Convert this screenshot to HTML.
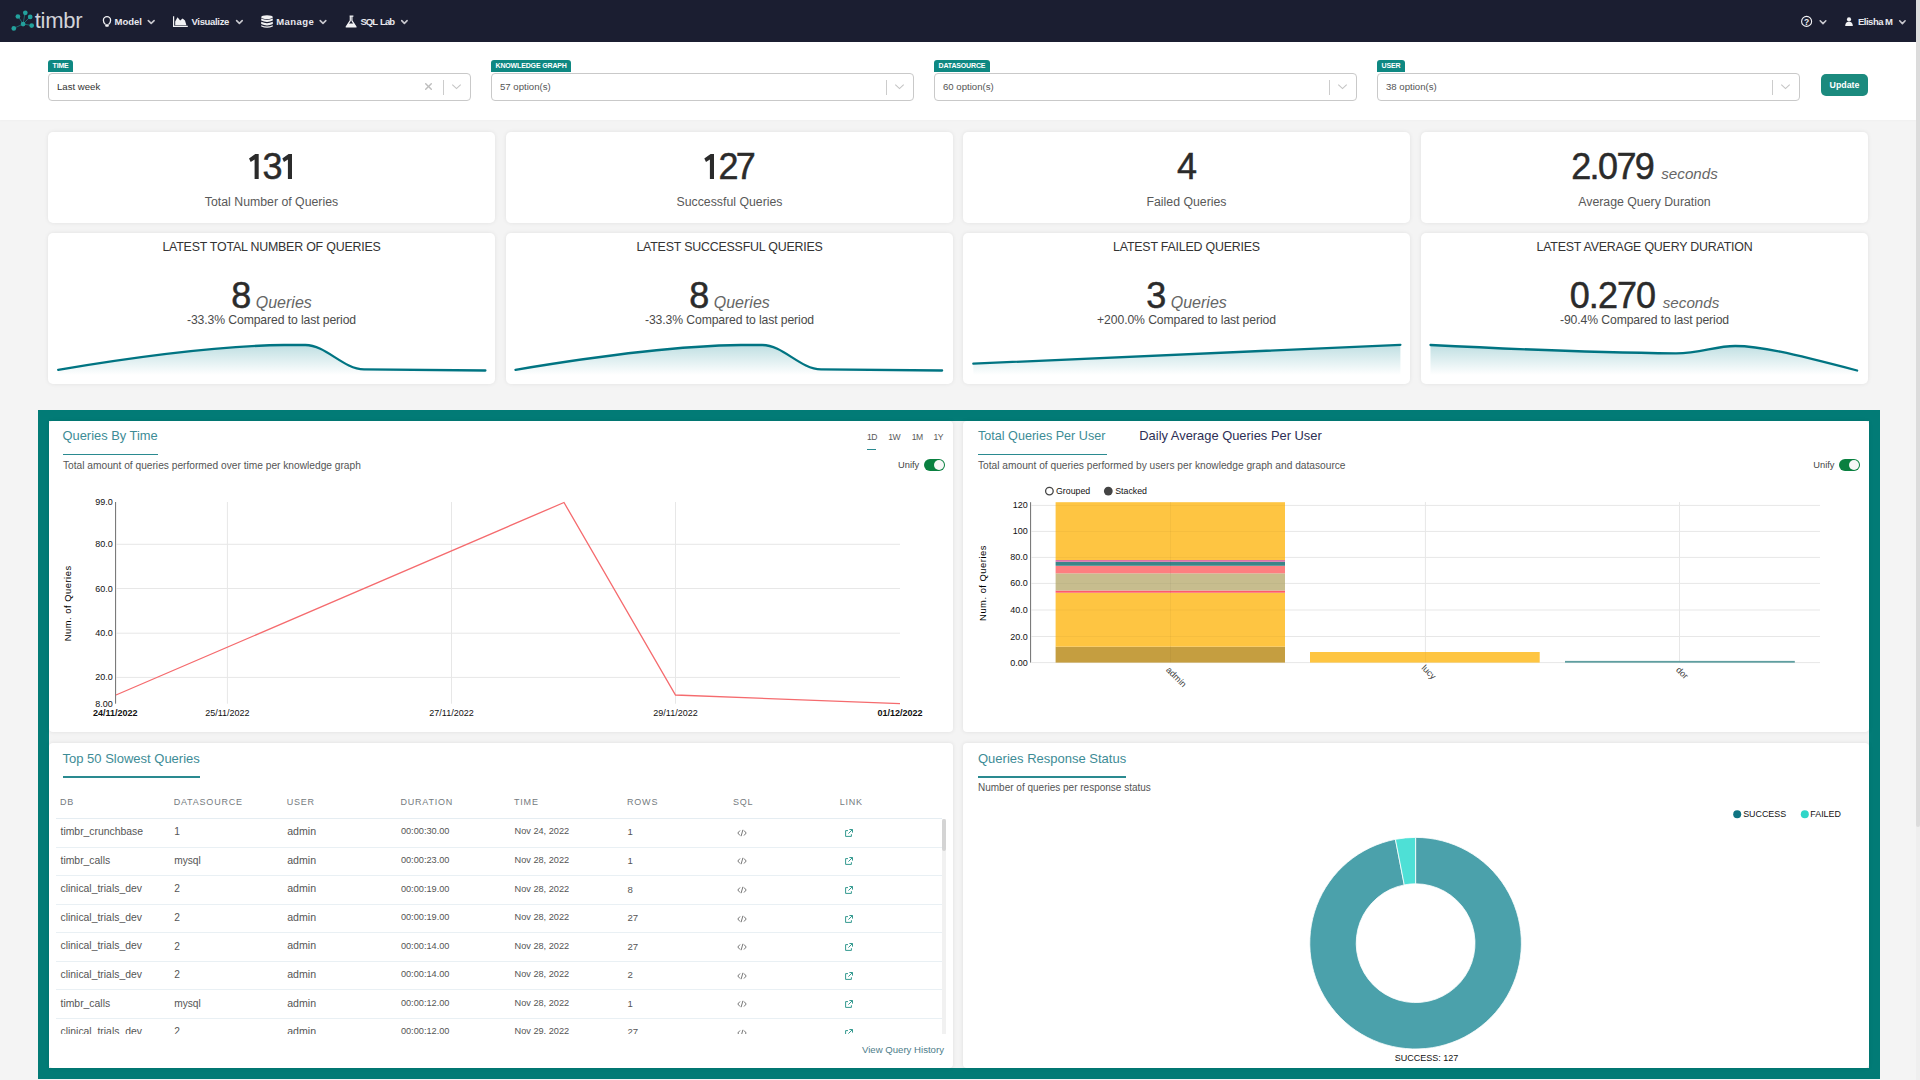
<!DOCTYPE html>
<html><head><meta charset="utf-8">
<style>
*{box-sizing:border-box;margin:0;padding:0}
html,body{width:1920px;height:1080px;overflow:hidden;background:#f4f4f4;font-family:"Liberation Sans",sans-serif;color:#333}
.a{position:absolute}
.nav{left:0;top:0;width:1916px;height:42px;background:#1b1e31}
.navt{position:absolute;top:16px;font-size:9.5px;font-weight:bold;color:#e9e9ee;white-space:nowrap;line-height:12px}
.chev{position:absolute}
.filt{left:0;top:42px;width:1916px;height:78px;background:#fff;box-shadow:0 1px 2px rgba(0,0,0,0.018)}
.lbl{position:absolute;top:60px;height:12.4px;background:#0e8882;color:#fff;font-size:7px;font-weight:bold;line-height:12.4px;padding:0 4.5px;border-radius:3px 3px 0 0;letter-spacing:-0.15px;white-space:nowrap}
.sel{position:absolute;top:72.6px;width:423px;height:28.2px;border:1px solid #c9c9c9;border-radius:4px;background:#fff}
.sel .v{position:absolute;left:8px;top:7.6px;font-size:9.6px;color:#555;line-height:12px;white-space:nowrap}
.sel .sep{position:absolute;left:394px;top:6px;width:1px;height:15px;background:#ccc}
.card{position:absolute;background:#fff;border-radius:5px;box-shadow:0 0 4px rgba(0,0,0,0.08)}
.big{position:absolute;left:0;width:100%;text-align:center;white-space:nowrap}
.kn{position:absolute;left:0;width:100%;text-align:center;white-space:nowrap;color:#2b2b2b}
.kn .n{font-size:36px;letter-spacing:-1.5px;line-height:34px;-webkit-text-stroke:0.5px #2b2b2b}
.kn .u{font-size:16px;font-style:italic;color:#666;margin-left:6px;line-height:17px}
.kl{position:absolute;left:0;width:100%;text-align:center;white-space:nowrap;font-size:12.3px;color:#595959;line-height:14px}
.kt{position:absolute;left:0;width:100%;text-align:center;white-space:nowrap;font-size:12.4px;color:#333;line-height:14px;letter-spacing:-0.2px}
.kc{position:absolute;left:0;width:100%;text-align:center;white-space:nowrap;font-size:12.2px;color:#4a4a4a;line-height:14px;letter-spacing:-0.1px}
.sb{position:absolute;left:1916px;top:0;width:4px;height:1080px;background:#efefef}
.sb div{position:absolute;left:0;top:0;width:4px;height:827px;background:#dcdcdc;border-radius:0 0 2px 2px}
.frame{left:38px;top:410px;width:1842px;height:669px;background:#027b76}
.inner{left:49px;top:421px;width:1820px;height:647px;background:#f4f4f4}
.pan{position:absolute;background:#fff;border-radius:4px;box-shadow:0 0 4px rgba(0,0,0,0.09)}
.ttl{position:absolute;font-size:12.9px;color:#3d8c96;white-space:nowrap;line-height:15px}
.ul{position:absolute;height:1.3px;background:#2a8a90}
.sub{position:absolute;font-size:10.2px;color:#555;white-space:nowrap;line-height:12px}
.ax{font-family:"Liberation Sans",sans-serif;font-size:9px;fill:#111}
.th{position:absolute;top:797.4px;font-size:9px;letter-spacing:0.8px;color:#757b80;white-space:nowrap;line-height:10px}
.td{position:absolute;font-size:9.4px;color:#555;white-space:nowrap;line-height:11px}
</style></head><body>
<div class="sb"><div></div></div>

<!-- NAVBAR -->
<div class="a nav">
  <svg class="a" style="left:10px;top:8px" width="26" height="26" viewBox="10 8 26 26">
    <g stroke="#1c7274" stroke-width="0.9" fill="none">
      <line x1="23.1" y1="24" x2="25" y2="12.7"/><line x1="23.1" y1="24" x2="17.9" y2="16.1"/>
      <line x1="23.1" y1="24" x2="30.2" y2="16.7"/><line x1="23.1" y1="24" x2="31.8" y2="25.5"/>
      <line x1="23.1" y1="24" x2="13.9" y2="28.3"/>
    </g>
    <g fill="#23a19d">
      <circle cx="25.3" cy="12.8" r="2.35"/><circle cx="17.9" cy="16.5" r="2.35"/><circle cx="30.2" cy="16.9" r="2.35"/>
      <circle cx="23.1" cy="24.1" r="2.4"/><circle cx="31.7" cy="25.6" r="2.35"/><circle cx="13.8" cy="28.4" r="2.35"/>
    </g>
  </svg>
  <div class="a" style="left:34.8px;top:8px;font-size:22px;color:#d2d3d9;letter-spacing:-0.3px;line-height:26px">timbr</div>

  <svg class="a" style="left:0;top:0" width="1916" height="42">
    <g fill="none" stroke="#c9c9cf" stroke-width="1.6" stroke-linecap="round" stroke-linejoin="round">
      <polyline points="148.3,20.6 151.2,23.4 154.1,20.6"/>
      <polyline points="236.6,20.6 239.4,23.4 242.2,20.6"/>
      <polyline points="320.2,20.6 323,23.4 325.8,20.6"/>
      <polyline points="401.7,20.6 404.4,23.4 407.1,20.6"/>
      <polyline points="1820.2,20.8 1823,23.6 1825.8,20.8"/>
      <polyline points="1899.7,20.8 1902.4,23.6 1905.1,20.8"/>
    </g>
    <!-- bulb -->
    <g fill="none" stroke="#f2f2f4" stroke-width="1.3">
      <path d="M105.3,24.2 C103.6,23 103.4,21.6 103.4,20.3 A3.6,3.6 0 0 1 110.6,20.3 C110.6,21.6 110.3,23 108.7,24.2"/>
    </g>
    <path d="M105.2,24.3 H108.8 V26.2 Q107,27.4 105.2,26.2 Z" fill="#f2f2f4"/>
    <!-- area chart -->
    <path d="M173.6,16.2 V26.3 H187.8" fill="none" stroke="#f2f2f4" stroke-width="1.2"/>
    <path d="M175.2,25.3 V21.5 L177.5,17.3 L180.2,20.6 L182.6,18.6 L185,20.4 L186.4,25.3 Z" fill="#f2f2f4"/>
    <!-- db -->
    <g fill="#f2f2f4">
      <ellipse cx="267" cy="17.2" rx="5.8" ry="1.9"/>
      <path d="M261.2,18.4 Q267,21.2 272.8,18.4 V20.6 Q267,23.4 261.2,20.6 Z"/>
      <path d="M261.2,21.8 Q267,24.6 272.8,21.8 V24 Q267,26.8 261.2,24 Z"/>
      <path d="M261.2,25.2 Q267,28 272.8,25.2 V26.4 Q267,29.2 261.2,26.4 Z"/>
    </g>
    <!-- flask -->
    <path d="M349.6,16.2 H353.4 M350.3,16.4 V20.6 L346.2,26.9 H356 L351.9,20.6 V16.4" fill="none" stroke="#f2f2f4" stroke-width="1.2" stroke-linejoin="round"/>
    <path d="M348.2,23.6 H354 L356,26.9 H346.2 Z" fill="#f2f2f4"/>
    <!-- help -->
    <circle cx="1806.6" cy="21.4" r="5" fill="none" stroke="#f2f2f4" stroke-width="1.1"/>
    <text x="1806.6" y="24.6" text-anchor="middle" font-family="Liberation Sans" font-weight="bold" font-size="8.5" fill="#f2f2f4">?</text>
    <!-- user -->
    <circle cx="1849" cy="19.4" r="2.1" fill="#f2f2f4"/>
    <path d="M1845.2,26.1 Q1845.2,21.8 1849,21.8 Q1852.8,21.8 1852.8,26.1 Z" fill="#f2f2f4"/>
  </svg>
  <div class="navt" style="left:114.5px">Model</div>
  <div class="navt" style="left:191.5px;letter-spacing:-0.33px">Visualize</div>
  <div class="navt" style="left:276.3px;letter-spacing:0.4px">Manage</div>
  <div class="navt" style="left:360.5px;letter-spacing:-1px;word-spacing:1.6px">SQL Lab</div>
  <div class="navt" style="left:1858px;letter-spacing:-0.5px">Elisha M</div>
</div>
<div class="a filt"></div>

<!-- FILTERS -->
<div class="lbl" style="left:48px">TIME</div>
<div class="lbl" style="left:491px">KNOWLEDGE GRAPH</div>
<div class="lbl" style="left:934px">DATASOURCE</div>
<div class="lbl" style="left:1377px">USER</div>
<div class="sel" style="left:48px"><div class="v" style="color:#333">Last week</div><div class="sep"></div></div>
<div class="sel" style="left:491px"><div class="v">57 option(s)</div><div class="sep"></div></div>
<div class="sel" style="left:934px"><div class="v">60 option(s)</div><div class="sep"></div></div>
<div class="sel" style="left:1377px"><div class="v">38 option(s)</div><div class="sep"></div></div>
<svg class="a" style="left:0;top:0" width="1916" height="120">
  <g fill="none" stroke="#c4c4c4" stroke-width="1.1"><polyline points="452.3,84.6 456.5,88.6 460.7,84.6"/><polyline points="895.3,84.6 899.5,88.6 903.7,84.6"/><polyline points="1338.3,84.6 1342.5,88.6 1346.7,84.6"/><polyline points="1781.3,84.6 1785.5,88.6 1789.7,84.6"/></g>
  <g stroke="#bdbdbd" stroke-width="1.4" stroke-linecap="round"><line x1="425.7" y1="83.7" x2="431.3" y2="89.3"/><line x1="431.3" y1="83.7" x2="425.7" y2="89.3"/></g>
</svg>
<div class="a" style="left:1821px;top:74px;width:47px;height:22px;background:#1b8a7e;border-radius:5px;color:#fff;font-size:8.8px;font-weight:bold;text-align:center;line-height:23.5px">Update</div>

<!-- KPI CARDS -->
<div class="card" style="left:48px;top:132px;width:447px;height:91px"><div class="kl" style="top:63px">Total Number of Queries</div></div>
<div class="card" style="left:506px;top:132px;width:447px;height:91px"><div class="kl" style="top:63px">Successful Queries</div></div>
<div class="card" style="left:963px;top:132px;width:447px;height:91px"><div class="kn" style="top:18px"><span class="n" style="letter-spacing:-1px">4</span></div><div class="kl" style="top:63px">Failed Queries</div></div>
<div class="card" style="left:1421px;top:132px;width:447px;height:91px"><div class="kn" style="top:18px"><span class="n" style="letter-spacing:-1.6px">2.079</span><span class="u" style="font-size:15.2px;margin-left:8px">seconds</span></div><div class="kl" style="top:63px">Average Query Duration</div></div>
<div class="card" style="left:48px;top:233px;width:447px;height:151px"><div class="kt" style="top:6.8px">LATEST TOTAL NUMBER OF QUERIES</div><div class="kn" style="top:45.5px"><span class="n">8</span><span class="u">Queries</span></div><div class="kc" style="top:79.6px">-33.3% Compared to last period</div></div>
<div class="card" style="left:506px;top:233px;width:447px;height:151px"><div class="kt" style="top:6.8px">LATEST SUCCESSFUL QUERIES</div><div class="kn" style="top:45.5px"><span class="n">8</span><span class="u">Queries</span></div><div class="kc" style="top:79.6px">-33.3% Compared to last period</div></div>
<div class="card" style="left:963px;top:233px;width:447px;height:151px"><div class="kt" style="top:6.8px">LATEST FAILED QUERIES</div><div class="kn" style="top:45.5px"><span class="n">3</span><span class="u">Queries</span></div><div class="kc" style="top:79.6px">+200.0% Compared to last period</div></div>
<div class="card" style="left:1421px;top:233px;width:447px;height:151px"><div class="kt" style="top:6.8px">LATEST AVERAGE QUERY DURATION</div><div class="kn" style="top:45.5px"><span class="n" style="letter-spacing:-0.9px">0.270</span><span class="u" style="font-size:15.2px;margin-left:7.5px">seconds</span></div><div class="kc" style="top:79.6px">-90.4% Compared to last period</div></div>
<svg class="a" style="left:0;top:0;pointer-events:none" width="1916" height="400">
<defs><linearGradient id="sg" x1="0" y1="0" x2="0" y2="1"><stop offset="0" stop-color="#128894" stop-opacity="0.27"/><stop offset="1" stop-color="#128894" stop-opacity="0"/></linearGradient></defs>
<path d="M58.2,369.8 Q200,346 284,345 L305.4,345 C326,345 343,369 364,369.4 L485.4,370.5 L485.4,375 L58.2,375 Z" fill="url(#sg)" stroke="none"/><path d="M58.2,369.8 Q200,346 284,345 L305.4,345 C326,345 343,369 364,369.4 L485.4,370.5" fill="none" stroke="#007482" stroke-width="2.3" stroke-linecap="round"/><path d="M515.5,369.8 Q657,346 741,345 L762.4,345 C783,345 800,369 821,369.4 L942.1,370.5 L942.1,375 L515.5,375 Z" fill="url(#sg)" stroke="none"/><path d="M515.5,369.8 Q657,346 741,345 L762.4,345 C783,345 800,369 821,369.4 L942.1,370.5" fill="none" stroke="#007482" stroke-width="2.3" stroke-linecap="round"/><path d="M973.3,363.7 L1400.4,344.8 L1400.4,375 L973.3,375 Z" fill="url(#sg)" stroke="none"/><path d="M973.3,363.7 L1400.4,344.8" fill="none" stroke="#007482" stroke-width="2.3" stroke-linecap="round"/><path d="M1430.5,345 C1500,348.5 1600,352.5 1675.4,353.4 C1700,353.6 1715,346 1735.2,346 C1760,346 1790,353 1857.1,370.5 L1857.1,375 L1430.5,375 Z" fill="url(#sg)" stroke="none"/><path d="M1430.5,345 C1500,348.5 1600,352.5 1675.4,353.4 C1700,353.6 1715,346 1735.2,346 C1760,346 1790,353 1857.1,370.5" fill="none" stroke="#007482" stroke-width="2.3" stroke-linecap="round"/>
</svg>
<svg class="a" style="left:0;top:0" width="1000" height="200"><g><path d="M249,158.5 L255.3,153.9 H258.7 V179 H254.6 V159.5 L250.7,162.1 Z" fill="#2b2b2b"/><path d="M282.3,158.5 L288.6,153.9 H292.0 V179 H287.90000000000003 V159.5 L284.0,162.1 Z" fill="#2b2b2b"/><path d="M704.3,158.5 L710.5999999999999,153.9 H714.0 V179 H709.9 V159.5 L706.0,162.1 Z" fill="#2b2b2b"/></g><g font-family="Liberation Sans" font-size="36" fill="#2b2b2b" stroke="#2b2b2b" stroke-width="0.5"><text x="262.5" y="179">3</text><text x="718.5" y="179">2</text><text x="735.8" y="179">7</text></g></svg>
<!-- FRAME -->
<div class="a frame"></div>
<div class="a inner"></div>
<div class="pan" style="left:49px;top:421px;width:904px;height:311px"></div>
<div class="pan" style="left:963px;top:421px;width:906px;height:311px"></div>
<div class="pan" style="left:49px;top:743px;width:904px;height:325px"></div>
<div class="pan" style="left:963px;top:743px;width:906px;height:325px"></div>

<svg class="a" style="left:0;top:0" width="1916" height="1080">
<g stroke="#e7e7e7" stroke-width="1">
<line x1="116.5" y1="544.3" x2="900" y2="544.3"/>
<line x1="116.5" y1="588.5" x2="900" y2="588.5"/>
<line x1="116.5" y1="633.2" x2="900" y2="633.2"/>
<line x1="116.5" y1="677.4" x2="900" y2="677.4"/>
<line x1="227.4" y1="502" x2="227.4" y2="703.7"/>
<line x1="451.5" y1="502" x2="451.5" y2="703.7"/>
<line x1="675.5" y1="502" x2="675.5" y2="703.7"/>
</g>
<line x1="115.6" y1="502" x2="115.6" y2="703.7" stroke="#6e6e6e" stroke-width="1"/>
<polyline points="116,695 564,502.5 675.5,695 900,703.7" fill="none" stroke="#f56b6e" stroke-width="1.3"/>
<g class="ax" text-anchor="end">
<text x="112.8" y="505">99.0</text>
<text x="112.8" y="547.3">80.0</text>
<text x="112.8" y="591.5">60.0</text>
<text x="112.8" y="636.2">40.0</text>
<text x="112.8" y="680.4">20.0</text>
<text x="112.8" y="706.7">8.00</text>
</g><g class="ax" text-anchor="middle">
<text x="115.3" y="715.9" font-weight="bold">24/11/2022</text>
<text x="227.4" y="715.9">25/11/2022</text>
<text x="451.5" y="715.9">27/11/2022</text>
<text x="675.5" y="715.9">29/11/2022</text>
<text x="900" y="715.9" font-weight="bold">01/12/2022</text>
</g>
<text class="ax" transform="translate(71.3,603.3) rotate(-90)" text-anchor="middle" style="font-size:9.4px;letter-spacing:0.5px;fill:#000">Num. of Queries</text>
<g stroke="#e7e7e7" stroke-width="1">
<line x1="1031.5" y1="505.4" x2="1820" y2="505.4"/>
<line x1="1031.5" y1="531.4" x2="1820" y2="531.4"/>
<line x1="1031.5" y1="557.4" x2="1820" y2="557.4"/>
<line x1="1031.5" y1="583.4" x2="1820" y2="583.4"/>
<line x1="1031.5" y1="610" x2="1820" y2="610"/>
<line x1="1031.5" y1="636.5" x2="1820" y2="636.5"/>
<line x1="1031.5" y1="662.6" x2="1820" y2="662.6"/>
<line x1="1170.5" y1="502" x2="1170.5" y2="662.6"/>
<line x1="1425.4" y1="502" x2="1425.4" y2="662.6"/>
<line x1="1679.5" y1="502" x2="1679.5" y2="662.6"/>
</g>
<rect x="1055.6" y="646.7" width="229.4" height="15.9" fill="#c59e40"/>
<rect x="1055.6" y="592.7" width="229.4" height="54.0" fill="#fec542"/>
<rect x="1055.6" y="590.5" width="229.4" height="2.2" fill="#fd5b6b"/>
<rect x="1055.6" y="573.3" width="229.4" height="17.2" fill="#c7bd8e"/>
<rect x="1055.6" y="566" width="229.4" height="7.3" fill="#fd7f80"/>
<rect x="1055.6" y="561.8" width="229.4" height="4.0" fill="#3b8488"/>
<rect x="1055.6" y="560" width="229.4" height="1.8" fill="#d874a8"/>
<rect x="1055.6" y="502.2" width="229.4" height="57.8" fill="#fec542"/>
<rect x="1310" y="652" width="229.7" height="10.6" fill="#fec542"/>
<rect x="1565" y="660.9" width="229.8" height="1.8" fill="#5f9ea0"/>
<g stroke="#000" stroke-opacity="0.035" stroke-width="1">
<line x1="1055.6" y1="505.4" x2="1285" y2="505.4"/>
<line x1="1055.6" y1="531.4" x2="1285" y2="531.4"/>
<line x1="1055.6" y1="557.4" x2="1285" y2="557.4"/>
<line x1="1055.6" y1="583.4" x2="1285" y2="583.4"/>
<line x1="1055.6" y1="610" x2="1285" y2="610"/>
<line x1="1055.6" y1="636.5" x2="1285" y2="636.5"/>
<line x1="1170.5" y1="502.2" x2="1170.5" y2="662.6"/><line x1="1425.4" y1="652" x2="1425.4" y2="662.6"/></g>
<line x1="1030.6" y1="502.2" x2="1030.6" y2="662.6" stroke="#6e6e6e" stroke-width="1"/>
<g class="ax" text-anchor="end">
<text x="1027.8" y="508.4">120</text>
<text x="1027.8" y="534.4">100</text>
<text x="1027.8" y="560.4">80.0</text>
<text x="1027.8" y="586.4">60.0</text>
<text x="1027.8" y="613">40.0</text>
<text x="1027.8" y="639.5">20.0</text>
<text x="1027.8" y="665.6">0.00</text>
</g>
<g class="ax" style="fill:#444">
<text transform="translate(1165.5,670.5) rotate(45)">admin</text>
<text transform="translate(1421,668.5) rotate(45)">lucy</text>
<text transform="translate(1675.5,670.5) rotate(45)">dor</text>
</g>
<text class="ax" transform="translate(986.3,583) rotate(-90)" text-anchor="middle" style="font-size:9.4px;letter-spacing:0.5px;fill:#000">Num. of Queries</text>
<circle cx="1049.4" cy="491.1" r="3.8" fill="none" stroke="#444" stroke-width="1.3"/>
<circle cx="1108.3" cy="491.1" r="4.4" fill="#444"/>
<text class="ax" x="1056" y="494" style="font-size:8.8px">Grouped</text>
<text class="ax" x="1115.2" y="494" style="font-size:8.8px">Stacked</text>
<path d="M1415.60,837.40 A105.8,105.8 0 1 1 1395.41,839.34 L1404.27,884.89 A59.4,59.4 0 1 0 1415.60,883.80 Z" fill="#4ba1ab" stroke="#fff" stroke-width="0.8"/>
<path d="M1395.41,839.34 A105.8,105.8 0 0 1 1415.60,837.40 L1415.60,883.80 A59.4,59.4 0 0 0 1404.27,884.89 Z" fill="#4ee0d6" stroke="#fff" stroke-width="0.8"/>
<text class="ax" x="1426.6" y="1061" text-anchor="middle" style="font-size:9px">SUCCESS: 127</text>
<circle cx="1737.2" cy="814.3" r="4" fill="#0f7482"/><text class="ax" x="1743.2" y="817.3" style="font-size:8.9px">SUCCESS</text>
<circle cx="1804.8" cy="814.3" r="4" fill="#2fd6c8"/><text class="ax" x="1810.3" y="817.3" style="font-size:8.9px">FAILED</text>
</svg>
<div class="ttl" style="left:62.5px;top:428px">Queries By Time</div><div class="ul" style="left:63px;top:453.7px;width:95px"></div>
<div class="sub" style="left:63px;top:459.8px">Total amount of queries performed over time per knowledge graph</div>
<div class="a" style="left:867px;top:431.8px;font-size:8.6px;letter-spacing:-0.5px;color:#5a5a5a;line-height:10px">1D</div>
<div class="a" style="left:888.2px;top:431.8px;font-size:8.6px;letter-spacing:-0.5px;color:#5a5a5a;line-height:10px">1W</div>
<div class="a" style="left:911.7px;top:431.8px;font-size:8.6px;letter-spacing:-0.5px;color:#5a5a5a;line-height:10px">1M</div>
<div class="a" style="left:933.5px;top:431.8px;font-size:8.6px;letter-spacing:-0.5px;color:#5a5a5a;line-height:10px">1Y</div>
<div class="ul" style="left:867px;top:448.8px;width:9.3px"></div>
<div class="a" style="left:898px;top:460.4px;font-size:9.3px;color:#444;line-height:11px">Unify</div><div class="a" style="left:923.5px;top:459px;width:21px;height:12px;border-radius:6px;background:#0a8040"></div><div class="a" style="left:933.5px;top:460px;width:10px;height:10px;border-radius:5px;background:#f7f7f7"></div>
<div class="ttl" style="left:978px;top:429.2px;font-size:12.6px">Total Queries Per User</div><div class="ul" style="left:978px;top:453.8px;width:129px"></div>
<div class="ttl" style="left:1139.3px;top:428px;color:#2e2f55">Daily Average Queries Per User</div>
<div class="sub" style="left:978px;top:459.8px">Total amount of queries performed by users per knowledge graph and datasource</div>
<div class="a" style="left:1813.3px;top:460.4px;font-size:9.3px;color:#444;line-height:11px">Unify</div><div class="a" style="left:1839px;top:459px;width:21px;height:12px;border-radius:6px;background:#0a8040"></div><div class="a" style="left:1849px;top:460px;width:10px;height:10px;border-radius:5px;background:#f7f7f7"></div>
<div class="ttl" style="left:62.5px;top:751px;font-size:13px">Top 50 Slowest Queries</div><div class="ul" style="left:63px;top:776.4px;width:137px"></div>
<div class="ttl" style="left:978px;top:751px;font-size:13px">Queries Response Status</div><div class="ul" style="left:978px;top:776.4px;width:147.5px"></div>
<div class="sub" style="left:978px;top:782.3px;font-size:10px">Number of queries per response status</div>
<div class="th" style="left:60px">DB</div>
<div class="th" style="left:173.7px">DATASOURCE</div>
<div class="th" style="left:286.7px">USER</div>
<div class="th" style="left:400.4px">DURATION</div>
<div class="th" style="left:514px">TIME</div>
<div class="th" style="left:627px">ROWS</div>
<div class="th" style="left:733px">SQL</div>
<div class="th" style="left:839.7px">LINK</div>
<div class="a" style="left:56px;top:818px;width:886px;height:1px;background:#e5edf2"></div>
<div class="a" style="left:49px;top:819px;width:904px;height:215px;overflow:hidden">
<div class="td" style="left:11.5px;top:6.9px;font-size:10.4px">timbr_crunchbase</div>
<div class="td" style="left:125.19999999999999px;top:7.0px;font-size:10.2px">1</div>
<div class="td" style="left:238.2px;top:6.8px;font-size:10.6px">admin</div>
<div class="td" style="left:351.9px;top:7.3px;font-size:9.2px">00:00:30.00</div>
<div class="td" style="left:465.5px;top:7.3px;font-size:9.2px">Nov 24, 2022</div>
<div class="td" style="left:578.5px;top:7.2px;font-size:9.6px">1</div>
<svg class="a" style="left:688.2px;top:9.5px" width="10" height="8" viewBox="0 0 10 8"><path d="M3,1.5 L0.8,4 L3,6.5 M7,1.5 L9.2,4 L7,6.5 M5.9,0.8 L4.1,7.2" fill="none" stroke="#666" stroke-width="0.9"/></svg>
<svg class="a" style="left:794.5px;top:8.5px" width="10" height="10" viewBox="0 0 10 10"><path d="M4,2.6 H1.6 V8.4 H7.4 V6.2 M5.4,1.5 H8.5 V4.6 M8.3,1.7 L4.4,5.6" fill="none" stroke="#2a958a" stroke-width="0.95"/></svg>
<div class="td" style="left:11.5px;top:35.6px;font-size:10.4px">timbr_calls</div>
<div class="td" style="left:125.19999999999999px;top:35.7px;font-size:10.2px">mysql</div>
<div class="td" style="left:238.2px;top:35.5px;font-size:10.6px">admin</div>
<div class="td" style="left:351.9px;top:36.0px;font-size:9.2px">00:00:23.00</div>
<div class="td" style="left:465.5px;top:36.0px;font-size:9.2px">Nov 28, 2022</div>
<div class="td" style="left:578.5px;top:35.9px;font-size:9.6px">1</div>
<svg class="a" style="left:688.2px;top:38.2px" width="10" height="8" viewBox="0 0 10 8"><path d="M3,1.5 L0.8,4 L3,6.5 M7,1.5 L9.2,4 L7,6.5 M5.9,0.8 L4.1,7.2" fill="none" stroke="#666" stroke-width="0.9"/></svg>
<svg class="a" style="left:794.5px;top:37.2px" width="10" height="10" viewBox="0 0 10 10"><path d="M4,2.6 H1.6 V8.4 H7.4 V6.2 M5.4,1.5 H8.5 V4.6 M8.3,1.7 L4.4,5.6" fill="none" stroke="#2a958a" stroke-width="0.95"/></svg>
<div class="td" style="left:11.5px;top:64.2px;font-size:10.4px">clinical_trials_dev</div>
<div class="td" style="left:125.19999999999999px;top:64.3px;font-size:10.2px">2</div>
<div class="td" style="left:238.2px;top:64.1px;font-size:10.6px">admin</div>
<div class="td" style="left:351.9px;top:64.6px;font-size:9.2px">00:00:19.00</div>
<div class="td" style="left:465.5px;top:64.6px;font-size:9.2px">Nov 28, 2022</div>
<div class="td" style="left:578.5px;top:64.5px;font-size:9.6px">8</div>
<svg class="a" style="left:688.2px;top:66.8px" width="10" height="8" viewBox="0 0 10 8"><path d="M3,1.5 L0.8,4 L3,6.5 M7,1.5 L9.2,4 L7,6.5 M5.9,0.8 L4.1,7.2" fill="none" stroke="#666" stroke-width="0.9"/></svg>
<svg class="a" style="left:794.5px;top:65.8px" width="10" height="10" viewBox="0 0 10 10"><path d="M4,2.6 H1.6 V8.4 H7.4 V6.2 M5.4,1.5 H8.5 V4.6 M8.3,1.7 L4.4,5.6" fill="none" stroke="#2a958a" stroke-width="0.95"/></svg>
<div class="td" style="left:11.5px;top:92.9px;font-size:10.4px">clinical_trials_dev</div>
<div class="td" style="left:125.19999999999999px;top:93.0px;font-size:10.2px">2</div>
<div class="td" style="left:238.2px;top:92.8px;font-size:10.6px">admin</div>
<div class="td" style="left:351.9px;top:93.3px;font-size:9.2px">00:00:19.00</div>
<div class="td" style="left:465.5px;top:93.3px;font-size:9.2px">Nov 28, 2022</div>
<div class="td" style="left:578.5px;top:93.2px;font-size:9.6px">27</div>
<svg class="a" style="left:688.2px;top:95.5px" width="10" height="8" viewBox="0 0 10 8"><path d="M3,1.5 L0.8,4 L3,6.5 M7,1.5 L9.2,4 L7,6.5 M5.9,0.8 L4.1,7.2" fill="none" stroke="#666" stroke-width="0.9"/></svg>
<svg class="a" style="left:794.5px;top:94.5px" width="10" height="10" viewBox="0 0 10 10"><path d="M4,2.6 H1.6 V8.4 H7.4 V6.2 M5.4,1.5 H8.5 V4.6 M8.3,1.7 L4.4,5.6" fill="none" stroke="#2a958a" stroke-width="0.95"/></svg>
<div class="td" style="left:11.5px;top:121.4px;font-size:10.4px">clinical_trials_dev</div>
<div class="td" style="left:125.19999999999999px;top:121.5px;font-size:10.2px">2</div>
<div class="td" style="left:238.2px;top:121.3px;font-size:10.6px">admin</div>
<div class="td" style="left:351.9px;top:121.8px;font-size:9.2px">00:00:14.00</div>
<div class="td" style="left:465.5px;top:121.8px;font-size:9.2px">Nov 28, 2022</div>
<div class="td" style="left:578.5px;top:121.7px;font-size:9.6px">27</div>
<svg class="a" style="left:688.2px;top:124.0px" width="10" height="8" viewBox="0 0 10 8"><path d="M3,1.5 L0.8,4 L3,6.5 M7,1.5 L9.2,4 L7,6.5 M5.9,0.8 L4.1,7.2" fill="none" stroke="#666" stroke-width="0.9"/></svg>
<svg class="a" style="left:794.5px;top:123.0px" width="10" height="10" viewBox="0 0 10 10"><path d="M4,2.6 H1.6 V8.4 H7.4 V6.2 M5.4,1.5 H8.5 V4.6 M8.3,1.7 L4.4,5.6" fill="none" stroke="#2a958a" stroke-width="0.95"/></svg>
<div class="td" style="left:11.5px;top:149.9px;font-size:10.4px">clinical_trials_dev</div>
<div class="td" style="left:125.19999999999999px;top:150.0px;font-size:10.2px">2</div>
<div class="td" style="left:238.2px;top:149.8px;font-size:10.6px">admin</div>
<div class="td" style="left:351.9px;top:150.3px;font-size:9.2px">00:00:14.00</div>
<div class="td" style="left:465.5px;top:150.3px;font-size:9.2px">Nov 28, 2022</div>
<div class="td" style="left:578.5px;top:150.2px;font-size:9.6px">2</div>
<svg class="a" style="left:688.2px;top:152.5px" width="10" height="8" viewBox="0 0 10 8"><path d="M3,1.5 L0.8,4 L3,6.5 M7,1.5 L9.2,4 L7,6.5 M5.9,0.8 L4.1,7.2" fill="none" stroke="#666" stroke-width="0.9"/></svg>
<svg class="a" style="left:794.5px;top:151.5px" width="10" height="10" viewBox="0 0 10 10"><path d="M4,2.6 H1.6 V8.4 H7.4 V6.2 M5.4,1.5 H8.5 V4.6 M8.3,1.7 L4.4,5.6" fill="none" stroke="#2a958a" stroke-width="0.95"/></svg>
<div class="td" style="left:11.5px;top:178.6px;font-size:10.4px">timbr_calls</div>
<div class="td" style="left:125.19999999999999px;top:178.7px;font-size:10.2px">mysql</div>
<div class="td" style="left:238.2px;top:178.5px;font-size:10.6px">admin</div>
<div class="td" style="left:351.9px;top:179.0px;font-size:9.2px">00:00:12.00</div>
<div class="td" style="left:465.5px;top:179.0px;font-size:9.2px">Nov 28, 2022</div>
<div class="td" style="left:578.5px;top:178.9px;font-size:9.6px">1</div>
<svg class="a" style="left:688.2px;top:181.2px" width="10" height="8" viewBox="0 0 10 8"><path d="M3,1.5 L0.8,4 L3,6.5 M7,1.5 L9.2,4 L7,6.5 M5.9,0.8 L4.1,7.2" fill="none" stroke="#666" stroke-width="0.9"/></svg>
<svg class="a" style="left:794.5px;top:180.2px" width="10" height="10" viewBox="0 0 10 10"><path d="M4,2.6 H1.6 V8.4 H7.4 V6.2 M5.4,1.5 H8.5 V4.6 M8.3,1.7 L4.4,5.6" fill="none" stroke="#2a958a" stroke-width="0.95"/></svg>
<div class="td" style="left:11.5px;top:206.9px;font-size:10.4px">clinical_trials_dev</div>
<div class="td" style="left:125.19999999999999px;top:207.0px;font-size:10.2px">2</div>
<div class="td" style="left:238.2px;top:206.8px;font-size:10.6px">admin</div>
<div class="td" style="left:351.9px;top:207.3px;font-size:9.2px">00:00:12.00</div>
<div class="td" style="left:465.5px;top:207.3px;font-size:9.2px">Nov 29, 2022</div>
<div class="td" style="left:578.5px;top:207.2px;font-size:9.6px">27</div>
<svg class="a" style="left:688.2px;top:209.5px" width="10" height="8" viewBox="0 0 10 8"><path d="M3,1.5 L0.8,4 L3,6.5 M7,1.5 L9.2,4 L7,6.5 M5.9,0.8 L4.1,7.2" fill="none" stroke="#666" stroke-width="0.9"/></svg>
<svg class="a" style="left:794.5px;top:208.5px" width="10" height="10" viewBox="0 0 10 10"><path d="M4,2.6 H1.6 V8.4 H7.4 V6.2 M5.4,1.5 H8.5 V4.6 M8.3,1.7 L4.4,5.6" fill="none" stroke="#2a958a" stroke-width="0.95"/></svg>
<div class="a" style="left:7px;top:28px;width:886px;height:1px;background:#e9f0f4"></div>
<div class="a" style="left:7px;top:56px;width:886px;height:1px;background:#e9f0f4"></div>
<div class="a" style="left:7px;top:85px;width:886px;height:1px;background:#e9f0f4"></div>
<div class="a" style="left:7px;top:113px;width:886px;height:1px;background:#e9f0f4"></div>
<div class="a" style="left:7px;top:142px;width:886px;height:1px;background:#e9f0f4"></div>
<div class="a" style="left:7px;top:170px;width:886px;height:1px;background:#e9f0f4"></div>
<div class="a" style="left:7px;top:199px;width:886px;height:1px;background:#e9f0f4"></div>
<div class="a" style="left:893px;top:0;width:4px;height:215px;background:#f1f1f1"></div><div class="a" style="left:893px;top:0;width:4px;height:32px;background:#d4d4d4;border-radius:2px"></div>
</div>
<div class="a" style="left:862px;top:1043.5px;font-size:9.6px;color:#4d7d8a;line-height:11px;white-space:nowrap">View Query History</div>
</body></html>
